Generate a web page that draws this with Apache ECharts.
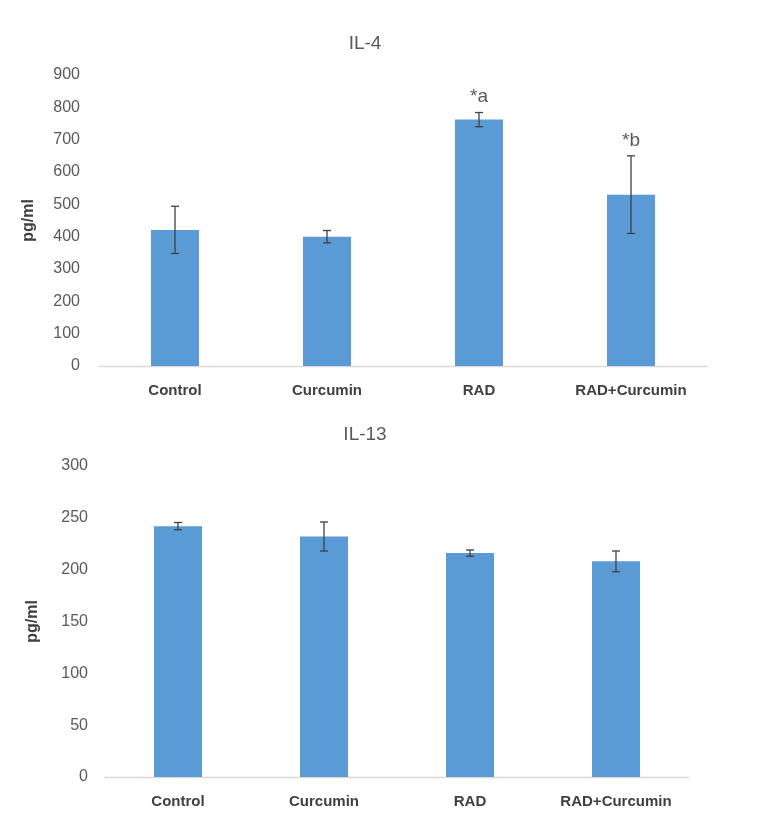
<!DOCTYPE html>
<html>
<head>
<meta charset="utf-8">
<script src="https://cdn.jsdelivr.net/npm/echarts@6/dist/echarts.min.js"></script>
<style>html,body{margin:0;padding:0;background:#fff}#c{width:768px;height:819px}</style>
</head>
<body>
<div id="c"></div>
<script>
var categories = ['Control', 'Curcumin', 'RAD', 'RAD+Curcumin'];
var il4Mean = [421, 400, 762, 530];
var il4Err = [73, 19, 22, 120];
var il4Sig = ['', '', '*a', '*b'];
var il13Mean = [242, 232, 216, 208];
var il13Err = [3.5, 14, 3, 10];
var il13Sig = ['', '', '', ''];
var il4Ticks = [0, 900, 100];
var il13Ticks = [0, 300, 50];

var FONT = '"Liberation Sans", sans-serif';
var BAR = '#5B9BD5';

function errSeries(idx, mean, err, sig) {
  return {
    type: 'custom',
    xAxisIndex: idx, yAxisIndex: idx,
    data: mean.map(function (m, i) { return [i, m - err[i], m + err[i], sig[i]]; }),
    renderItem: function (params, api) {
      var x = api.value(0);
      var lo = api.coord([x, api.value(1)]);
      var hi = api.coord([x, api.value(2)]);
      var cap = 4;
      var st = { stroke: '#404040', lineWidth: 1.3 };
      var children = [
        { type: 'line', shape: { x1: lo[0], y1: lo[1], x2: hi[0], y2: hi[1] }, style: st },
        { type: 'line', shape: { x1: lo[0] - cap, y1: lo[1], x2: lo[0] + cap, y2: lo[1] }, style: st },
        { type: 'line', shape: { x1: hi[0] - cap, y1: hi[1], x2: hi[0] + cap, y2: hi[1] }, style: st }
      ];
      var s = sig[params.dataIndex];
      if (s) {
        children.push({ type: 'text', x: hi[0], y: hi[1] - 6,
          style: { text: s, fill: '#595959', font: '19px "Liberation Sans", sans-serif', align: 'center', verticalAlign: 'bottom' } });
      }
      return { type: 'group', children: children };
    },
    z: 5
  };
}

var chart = echarts.init(document.getElementById('c'));
chart.setOption({
  animation: false,
  backgroundColor: '#fff',
  title: [
    { text: 'IL-4', left: 360, top: 29, textAlign: 'center', textStyle: { fontFamily: FONT, fontSize: 19, fontWeight: 'normal', color: '#595959' } },
    { text: 'IL-13', left: 360, top: 420, textAlign: 'center', textStyle: { fontFamily: FONT, fontSize: 19, fontWeight: 'normal', color: '#595959' } }
  ],
  grid: [
    { left: 99, right: 61, top: 75, height: 291 },
    { left: 105, right: 79, top: 466, height: 311 }
  ],
  xAxis: [0, 1].map(function (i) {
    return {
      type: 'category', gridIndex: i, data: categories,
      axisLine: { lineStyle: { color: '#d9d9d9', width: 1.3 } },
      axisTick: { show: false },
      axisLabel: { interval: 0, fontFamily: FONT, fontSize: 15, fontWeight: 'bold', color: '#404040', margin: 17 }
    };
  }),
  yAxis: [
    { type: 'value', gridIndex: 0, min: il4Ticks[0], max: il4Ticks[1], interval: il4Ticks[2],
      name: 'pg/ml', nameLocation: 'middle', nameGap: 62,
      nameTextStyle: { fontFamily: FONT, fontSize: 16, fontWeight: 'bold', color: '#404040' },
      axisLine: { show: false }, axisTick: { show: false }, splitLine: { show: false },
      axisLabel: { fontFamily: FONT, fontSize: 16, color: '#595959', margin: 19 } },
    { type: 'value', gridIndex: 1, min: il13Ticks[0], max: il13Ticks[1], interval: il13Ticks[2],
      name: 'pg/ml', nameLocation: 'middle', nameGap: 64,
      nameTextStyle: { fontFamily: FONT, fontSize: 16, fontWeight: 'bold', color: '#404040' },
      axisLine: { show: false }, axisTick: { show: false }, splitLine: { show: false },
      axisLabel: { fontFamily: FONT, fontSize: 16, color: '#595959', margin: 17 } }
  ],
  series: [
    { type: 'bar', xAxisIndex: 0, yAxisIndex: 0, data: il4Mean, barWidth: 48, itemStyle: { color: BAR } },
    errSeries(0, il4Mean, il4Err, il4Sig),
    { type: 'bar', xAxisIndex: 1, yAxisIndex: 1, data: il13Mean, barWidth: 48, itemStyle: { color: BAR } },
    errSeries(1, il13Mean, il13Err, il13Sig)
  ]
});
</script>
</body>
</html>
